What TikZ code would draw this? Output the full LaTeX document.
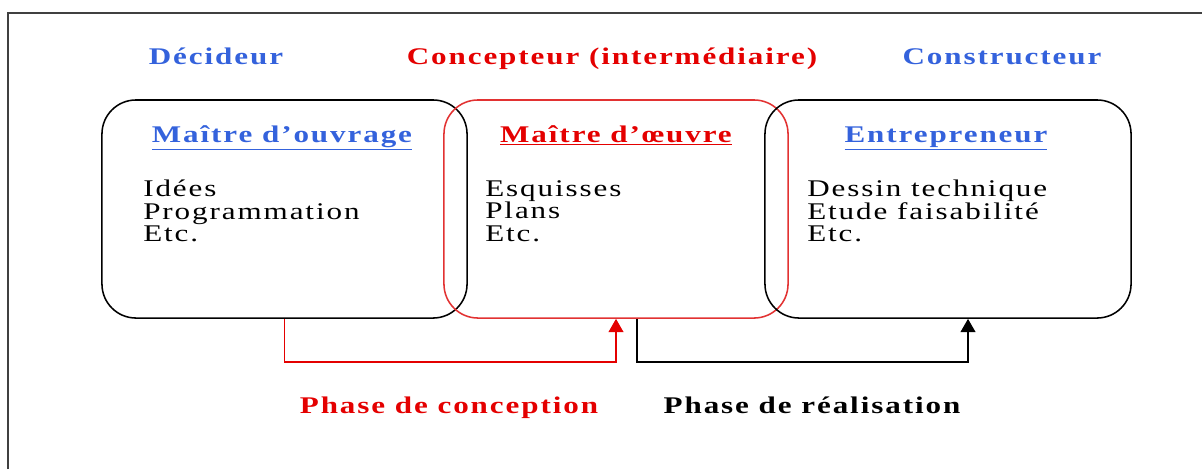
\documentclass[tikz,border=0pt]{standalone}
\usepackage{fontspec}
\setmainfont{Liberation Serif}
\newfontfamily\headfont[FakeStretch=1.3,LetterSpace=8]{Liberation Serif}
\newfontfamily\bodyfont[FakeStretch=1.3,LetterSpace=8]{Liberation Serif}
\usepackage{tikz}
\usetikzlibrary{arrows.meta, calc}
\definecolor{decBlue}{RGB}{52,98,220}
\definecolor{concRed}{RGB}{228,0,0}
\definecolor{boxRed}{RGB}{226,50,50}

\begin{document}
\begin{tikzpicture}[x=0.025cm, y=-0.025cm,
	roundbox/.style={draw, line width=1.1pt, rounded corners=0.85cm, minimum height=5.45cm, inner sep=0},
	head/.style={font=\headfont\bfseries\fontsize{17}{19}\selectfont, anchor=base, inner sep=0},
	boxtitle/.style={font=\headfont\bfseries\fontsize{17}{19}\selectfont, anchor=base, inner sep=0},
	boxtext/.style={font=\bodyfont\fontsize{17}{16}\selectfont, align=left, anchor=north west, inner sep=0},
	phase/.style={line width=1.3pt, -{Triangle[width=10.5pt, length=9.5pt]}}]
	\useasboundingbox (0,0) rectangle (1202,469);
	\draw[line width=1.2pt, black!75] (8,469) -- (8,13) -- (1202,13);

	% roles
	\node[head, text=decBlue] (dec) at (216,64) {Décideur};
	\node[head, text=concRed] (conc) at (612,64) {Concepteur (intermédiaire)};
	\node[head, text=decBlue] (cons) at (1002,64) {Constructeur};

	% the three actors
	\node[roundbox, minimum width=9.125cm] (mo) at (284.5,209) {};
	\node[roundbox, draw=boxRed, minimum width=8.6cm] (moe) at (616,209) {};
	\node[roundbox, minimum width=9.15cm] (ent) at (948,209) {};

	\node[boxtitle, text=decBlue] (mot) at (282,142) {\underline{Maître d’ouvrage}};
	\node[boxtitle, text=concRed] (moet) at (616,142) {\underline{Maître d’œuvre}};
	\node[boxtitle, text=decBlue] (entt) at (946,142) {\underline{Entrepreneur}};

	\node[boxtext] (mox) at (143,180) {Idées\\Programmation\\Etc.};
	\node[boxtext] (moex) at (485,180) {Esquisses\\Plans\\Etc.};
	\node[boxtext] (entx) at (807,180) {Dessin technique\\Etude faisabilité\\Etc.};

	% phases
	\draw[phase, concRed] (mo.south) -- ++(0,43) -| (moe.south);
	\draw[phase, black] ($(moe.south)+(21,0)$) -- ++(0,43) -| ($(ent.south)+(20,0)$);

	\node[head, text=concRed] (pc) at (449,413) {Phase de conception};
	\node[head, text=black] (pr) at (812,413) {Phase de réalisation};
\end{tikzpicture}
\end{document}
